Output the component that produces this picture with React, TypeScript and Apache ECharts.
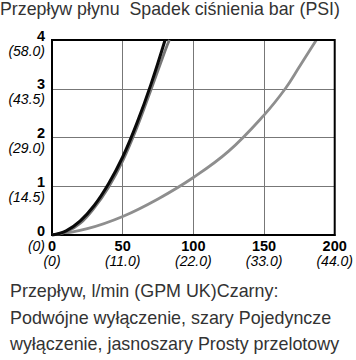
import React, { useEffect, useRef } from "react";
import * as echarts from "echarts";

const titleText = "Przepływ płynu  Spadek ciśnienia bar (PSI)";
const footerLines = [
  "Przepływ, l/min (GPM UK)Czarny:",
  "Podwójne wyłączenie, szary Pojedyncze",
  "wyłączenie, jasnoszary Prosty przelotowy",
];

const xTickGpm = ["(0)", "(11.0)", "(22.0)", "(33.0)", "(44.0)"];
const yTickPsi = ["(0)", "(14.5)", "(29.0)", "(43.5)", "(58.0)"];

// Flow l/min -> pressure drop bar
const doubleShutoffX = [0, 10, 20, 30, 40, 50, 60, 70, 80];
const doubleShutoffY = [0, 0.085, 0.29, 0.61, 1.05, 1.6, 2.29, 3.09, 4.0];

const singleShutoffX = [0, 10, 20, 30, 40, 50, 60, 70, 80, 83];
const singleShutoffY = [0, 0.06, 0.24, 0.56, 0.98, 1.52, 2.2, 2.98, 3.78, 4.0];

const straightX = [0, 25, 50, 75, 100, 125, 150, 165, 175, 187];
const straightY = [0, 0.13, 0.38, 0.74, 1.18, 1.72, 2.46, 3.0, 3.45, 4.0];

const zip = (xs: number[], ys: number[]) => xs.map((x, i) => [x, ys[i]]);

const FONT = "Liberation Sans, Arial, sans-serif";

export default function App() {
  const ref = useRef<HTMLDivElement>(null);
  useEffect(() => {
    if (!ref.current) return;
    const chart = echarts.init(ref.current, undefined, { renderer: "svg" });
    const lineSeries = (name: string, data: number[][], color: string, z: number, width: number) => ({
      name,
      type: "line",
      data,
      smooth: 0.4,
      showSymbol: false,
      z,
      lineStyle: { color, width },
    });
    chart.setOption({
      animation: false,
      textStyle: { fontFamily: FONT },
      title: {
        text: titleText,
        left: 0,
        top: 0,
        padding: 0,
        textStyle: { fontSize: 17.8, fontWeight: "normal", color: "#333", fontFamily: FONT },
      },
      graphic: [
        {
          type: "text",
          left: 10,
          top: 278,
          style: {
            text: footerLines.join("\n"),
            fontSize: 17.9,
            lineHeight: 26.5,
            fill: "#333",
            fontFamily: FONT,
          },
        },
      ],
      grid: {
        left: 52,
        right: 16.5,
        top: 40,
        bottom: 125,
        show: true,
        borderColor: "#000",
        borderWidth: 2,
        backgroundColor: "transparent",
        z: 3,
      },
      xAxis: {
        type: "value",
        min: 0,
        max: 200,
        interval: 50,
        axisLine: { show: true, lineStyle: { color: "#000", width: 2 } },
        axisTick: { show: false },
        splitLine: { show: true, showMinLine: false, showMaxLine: false, lineStyle: { color: "#777", width: 1 } },
        axisLabel: {
          margin: 3,
          formatter: (v: number, i: number) => `{a|${v}}\n{b|${xTickGpm[i]}}`,
          rich: {
            a: { fontSize: 14.5, fontWeight: "bold", color: "#000", lineHeight: 15, fontFamily: FONT },
            b: { fontSize: 14, fontStyle: "italic", color: "#000", lineHeight: 15, fontFamily: FONT },
          },
        },
      },
      yAxis: {
        type: "value",
        min: 0,
        max: 4,
        interval: 1,
        axisLine: { show: true, lineStyle: { color: "#000", width: 2 } },
        axisTick: { show: false },
        splitLine: { show: true, showMinLine: false, showMaxLine: false, lineStyle: { color: "#777", width: 1 } },
        axisLabel: {
          margin: 7,
          padding: [6, 0, 0, 0],
          align: "right",
          formatter: (v: number, i: number) => `{a|${v}}\n{b|${yTickPsi[i]}}`,
          rich: {
            a: { fontSize: 14.5, fontWeight: "bold", color: "#000", lineHeight: 15, align: "right", fontFamily: FONT },
            b: { fontSize: 14, fontStyle: "italic", color: "#000", lineHeight: 15, align: "right", fontFamily: FONT },
          },
        },
      },
      series: [
        lineSeries("Prosty przelotowy", zip(straightX, straightY), "#8e8e8e", 2, 2.8),
        lineSeries("Pojedyncze wyłączenie", zip(singleShutoffX, singleShutoffY), "#777777", 3, 2.8),
        lineSeries("Podwójne wyłączenie", zip(doubleShutoffX, doubleShutoffY), "#0a0a0a", 4, 3),
      ],
    });
    return () => chart.dispose();
  }, []);
  return (
    <div
      ref={ref}
      style={{ position: "fixed", left: 0, top: 0, width: 356, height: 360, background: "#fff" }}
    />
  );
}
